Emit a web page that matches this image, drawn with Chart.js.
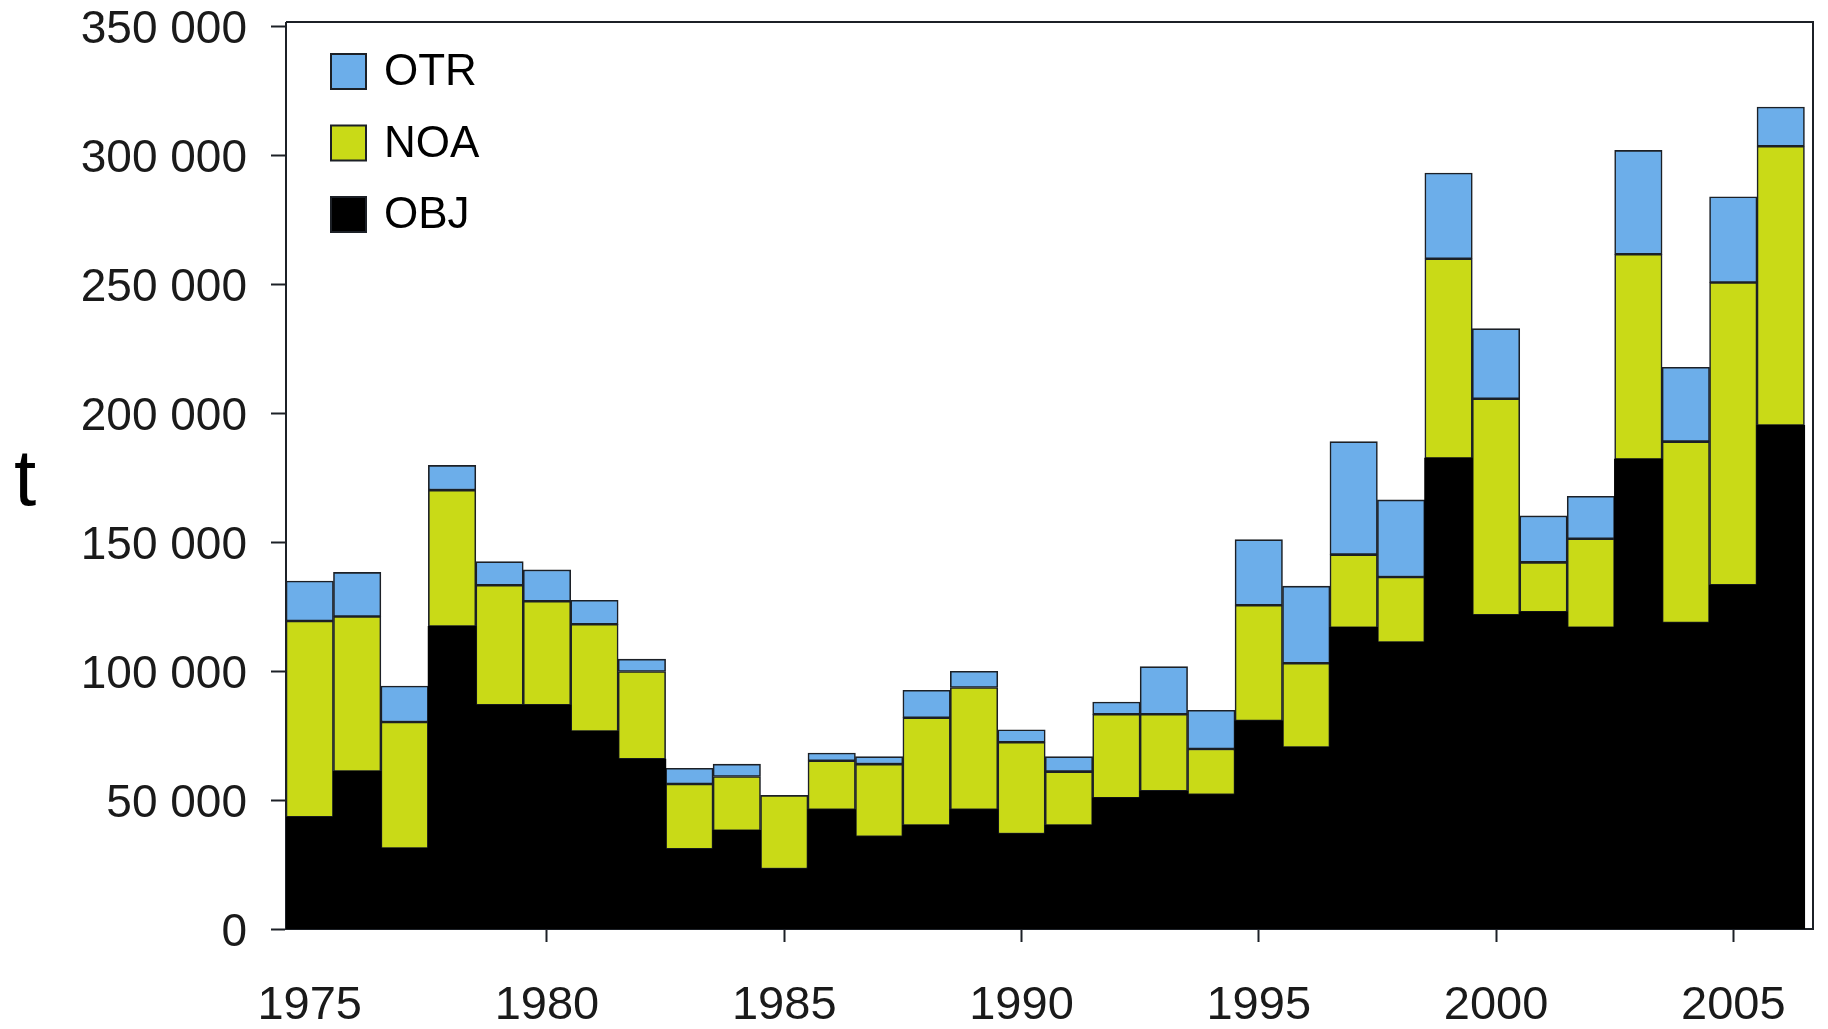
<!DOCTYPE html>
<html>
<head>
<meta charset="utf-8">
<script src="https://cdn.jsdelivr.net/npm/chart.js@4.4.1/dist/chart.umd.min.js"></script>
<style>
    body { margin: 0; background: #fff; }
    #wrap { width: 1828px; height: 1029px; position: relative; }
</style>
</head>
<body>
<div id="wrap"><canvas id="catchChart" width="1828" height="1029"></canvas></div>
<script>
// Catch by year (t), stacked: OBJ at the bottom, then NOA, then OTR
const years = [1975, 1976, 1977, 1978, 1979, 1980, 1981, 1982, 1983, 1984, 1985, 1986, 1987, 1988, 1989, 1990,
    1991, 1992, 1993, 1994, 1995, 1996, 1997, 1998, 1999, 2000, 2001, 2002, 2003, 2004, 2005, 2006];
const objValues = [43300, 61000, 31200, 117200, 86700, 86700, 76500, 65800, 30900, 38100, 23200, 46200, 35700, 40100, 46200, 36800,
    40100, 50700, 53400, 52000, 80600, 70300, 116800, 111000, 182400, 121600, 122800, 116800, 182000, 118600, 133200, 195100];
const noaValues = [76100, 60100, 49000, 52900, 46500, 40300, 41600, 34000, 25300, 21000, 28600, 19000, 28200, 41800, 47400, 35600,
    20900, 32500, 29800, 17800, 44900, 32700, 28300, 25400, 77400, 83900, 19300, 34500, 79500, 70300, 117400, 108300];
const otrValues = [15500, 17100, 14000, 9600, 9200, 12200, 9300, 4800, 6100, 4800, 0, 3000, 2900, 10600, 6300, 4800,
    5800, 4800, 18500, 15000, 25400, 29900, 43800, 29900, 33200, 27200, 18000, 16400, 40300, 28800, 33200, 15200];
const yearTicks = [1975, 1980, 1985, 1990, 1995, 2000, 2005];
const yTicks = [0, 50000, 100000, 150000, 200000, 250000, 300000, 350000];

const edge = '#1c2026';
const font = '"Liberation Sans", Arial, sans-serif';

function toPoints(values) {
    return values.map((v, i) => ({ x: years[i], y: v }));
}

function spaced(v) {
    return String(v).replace(/\B(?=(\d{3})+(?!\d))/g, ' ');
}

// frame, unit label and legend drawn inside the plot
const decorations = {
    id: 'decorations',
    afterDraw(chart) {
        const c = chart.ctx;
        const a = chart.chartArea;
        c.save();
        c.strokeStyle = edge;
        c.lineWidth = 2;
        c.beginPath();
        c.moveTo(a.left, a.top - 4);
        c.lineTo(a.right, a.top - 4);
        c.lineTo(a.right, a.bottom);
        c.moveTo(a.left, a.top - 4);
        c.lineTo(a.left, a.top);
        c.stroke();

        c.fillStyle = '#000';
        c.font = '80px ' + font;
        c.textAlign = 'left';
        c.textBaseline = 'alphabetic';
        c.fillText('t', 14, 505);

        const sets = chart.data.datasets.slice().reverse();
        c.font = '44px ' + font;
        c.textBaseline = 'middle';
        sets.forEach((ds, i) => {
            const top = 54 + i * 71.5;
            c.fillStyle = ds.backgroundColor;
            c.fillRect(331, top, 35, 35);
            c.lineWidth = 2;
            c.strokeStyle = edge;
            c.strokeRect(331, top, 35, 35);
            c.fillStyle = '#000';
            c.fillText(ds.label, 384, top + 19);
        });
        c.restore();
    }
};

const ctx = document.getElementById('catchChart').getContext('2d');
new Chart(ctx, {
    type: 'bar',
    data: {
        datasets: [
            { label: 'OBJ', data: toPoints(objValues), backgroundColor: '#000000', borderWidth: 0, inflateAmount: 0.6 },
            { label: 'NOA', data: toPoints(noaValues), backgroundColor: '#c9da17' },
            { label: 'OTR', data: toPoints(otrValues), backgroundColor: '#6caeea' }
        ]
    },
    options: {
        responsive: false,
        animation: false,
        layout: { padding: { top: 26, right: 15, left: 0, bottom: 0 } },
        datasets: {
            bar: {
                barPercentage: 1,
                categoryPercentage: 1,
                borderWidth: 1.6,
                borderColor: edge,
                borderSkipped: false
            }
        },
        plugins: {
            legend: { display: false },
            tooltip: { enabled: false }
        },
        scales: {
            x: {
                type: 'linear',
                stacked: true,
                offset: false,
                min: 1974.5,
                max: 2006.68,
                afterBuildTicks: axis => { axis.ticks = yearTicks.map(v => ({ value: v })); },
                afterFit: axis => { axis.height = 100; axis.paddingLeft = 0; axis.paddingRight = 0; },
                grid: {
                    offset: false,
                    drawOnChartArea: false,
                    drawTicks: true,
                    tickLength: 13,
                    tickWidth: 2,
                    tickColor: c => (c.tick && c.tick.value === 1975) ? 'rgba(0,0,0,0)' : edge
                },
                border: { display: true, color: edge, width: 2 },
                ticks: {
                    autoSkip: false,
                    maxRotation: 0,
                    padding: 36,
                    color: '#1a1a1a',
                    font: { family: font, size: 47 },
                    callback: v => String(v)
                }
            },
            y: {
                stacked: true,
                min: 0,
                max: 350000,
                afterBuildTicks: axis => { axis.ticks = yTicks.map(v => ({ value: v })); },
                afterFit: axis => { axis.width = 286; axis.paddingTop = 0; axis.paddingBottom = 0; },
                grid: {
                    drawOnChartArea: false,
                    drawTicks: true,
                    tickLength: 15,
                    tickWidth: 2,
                    tickColor: edge
                },
                border: { display: true, color: edge, width: 2 },
                ticks: {
                    padding: 24,
                    labelOffset: 4,
                    color: '#1a1a1a',
                    font: { family: font, size: 46 },
                    callback: v => spaced(v)
                }
            }
        }
    },
    plugins: [decorations]
});
</script>
</body>
</html>
